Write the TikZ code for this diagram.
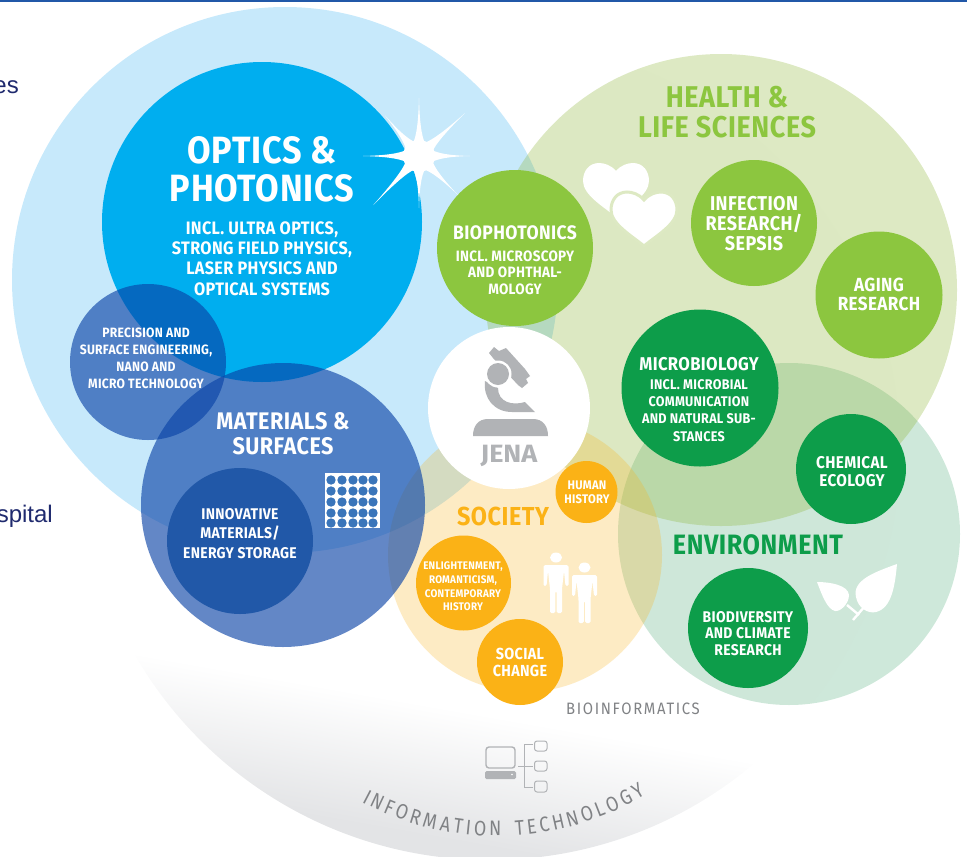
\documentclass[tikz,border=0pt]{standalone}
\usepackage{fontspec}
\usetikzlibrary{decorations.text}
\setmainfont{Liberation Sans}
\newfontfamily\lab[FakeStretch=0.90,LetterSpace=2]{Fira Sans}
\newfontfamily\labx[FakeStretch=1.08]{Fira Sans}
\newfontfamily\labwide[LetterSpace=10,FakeStretch=0.9]{Fira Sans}
\newfontfamily\labcurve[FakeStretch=0.85]{Fira Sans}
\definecolor{skypale}{HTML}{C7E9FB}
\definecolor{optic}{HTML}{00AEEF}
\definecolor{matblue}{HTML}{0942A6}
\definecolor{innov}{HTML}{2158A8}
\definecolor{dotblue}{HTML}{3A75BA}
\definecolor{lime}{HTML}{8CC63F}
\definecolor{healthbase}{HTML}{8DB637}
\definecolor{envbase}{HTML}{0A8A45}
\definecolor{deepgreen}{HTML}{0D9D4A}
\definecolor{amber}{HTML}{FBB216}
\definecolor{iconGray}{HTML}{B1B3B6}
\definecolor{txtGray}{HTML}{808285}
\definecolor{navy}{HTML}{1F2A6E}
\definecolor{halo}{HTML}{DDE9C3}
\definecolor{itgray}{HTML}{E3E4E6}
\pgfdeclareverticalshading{itsh}{100bp}{color(0bp)=(itgray); color(26bp)=(itgray); color(34bp)=(white); color(100bp)=(white)}
\tikzset{
  disc/.style={circle,inner sep=0pt,outer sep=0pt,minimum size=#1},
  wt/.style={text=white,align=center,inner sep=0pt,font=\lab\bfseries\fontsize{#1}{#1}\selectfont},
  lines/.style 2 args={text=white,align=center,inner sep=0pt,font=\lab\bfseries\fontsize{#1}{#2}\selectfont},
  icon/.style={fill=iconGray,draw=none},
  iconline/.style={draw=iconGray,line width=1.4pt,fill=none},
}
\newcommand{\heartpath}{(0,0) .. controls (5,-6) and (12,-8) .. (17,-8) .. controls (27,-8) and (33,0) .. (33,10) .. controls (33,24) and (12,36) .. (0,46) .. controls (-12,36) and (-33,24) .. (-33,10) .. controls (-33,0) and (-27,-8) .. (-17,-8) .. controls (-12,-8) and (-5,-6) .. (0,0) -- cycle}
\newcommand{\personat}[2]{%
  \begin{scope}[shift={(#1,#2)}]
    \fill[white] (0,-7.5) ellipse (6 and 5);
    \fill[white,rounded corners=1.5pt] (-12.5,0) -- (12.5,0) -- (12.5,21) -- (9.5,21) -- (8,6) -- (6,24) -- (6,48) -- (0.7,48) -- (0.7,26) -- (-0.7,26) -- (-0.7,48) -- (-6,48) -- (-6,24) -- (-8,6) -- (-9.5,21) -- (-12.5,21) -- cycle;
  \end{scope}}
\begin{document}
\begin{tikzpicture}[x=1pt,y=-1pt]
\useasboundingbox (0,0) rectangle (967,857);
% top rule
\fill[fill=innov] (0,0) rectangle (967,1.5);
% information technology disc with grey lower part, gradient tilted
\shade[shading=itsh,shading angle=-10] (490,450) circle (410);
% large pale discs
\node[disc=546pt,fill=skypale] (sky) at (285,280) {};
\node[disc=342pt,fill=envbase,fill opacity=.2] (envdisc) at (789,534) {};
\node[disc=472pt,fill=healthbase,fill opacity=.3] (healthdisc) at (721,290) {};
\node[disc=274pt,fill=amber,fill opacity=.25] (socdisc) at (525,555) {};
% optics and star
\node[disc=320pt,fill=optic] (optics) at (262,222) {};
\begin{scope}[shift={(419,156)}]
  \foreach \a/\l in {0/51,45/55,90/52,133/67,180/56,230/53,270/58,317/63}{
    \fill[white] (\a+26:14) .. controls (\a+7:20) and (\a+1:\l*.6) .. (\a:\l) .. controls (\a-1:\l*.6) and (\a-7:20) .. (\a-26:14) -- cycle;
  }
  \fill[white] (0,0) circle (16);
\end{scope}
% materials
\node[disc=284pt,fill=matblue,fill opacity=.63] (materials) at (283,505) {};
\node[disc=156pt,fill=matblue,fill opacity=.63] (precision) at (148,362) {};
\node[disc=146pt,fill=innov] (innovative) at (240,541) {};
\fill[white] (325,473) rectangle (380,528);
\foreach \x in {331,342,353,363,373}{\foreach \y in {480,491,502,513,523}{\fill[fill=dotblue] (\x,\y) circle (4.7);}}
% hearts
\fill[white,shift={(616,171)}] \heartpath;
\filldraw[fill=white,draw=halo,line width=3pt,shift={(644,200)}] \heartpath;
% green discs
\node[disc=156pt,fill=lime] (bio) at (515,248) {};
\node[disc=126pt,fill=lime] (infection) at (754,223) {};
\node[disc=127pt,fill=lime] (aging) at (879,295) {};
\node[disc=157pt,fill=deepgreen] (micro) at (700,388) {};
\node[disc=110pt,fill=deepgreen] (chem) at (851,469) {};
\node[disc=120pt,fill=deepgreen] (biodiv) at (748,628) {};
% society discs
\node[disc=162pt,fill=white] (jena) at (509,408) {};
\node[disc=62pt,fill=amber] (human) at (586.5,492) {};
\node[disc=95pt,fill=amber] (enlight) at (463.5,583) {};
\node[disc=86pt,fill=amber] (social) at (520,662) {};
% microscope
\fill[icon] (489,353) -- (494,347) -- (499,351) -- (506,348) -- (525,369) -- (530,376) -- (526,379) -- (528,383) -- (522,388) -- (518,385) -- (493,358) -- cycle;
\fill[icon] (485,381) .. controls (483,398) and (494,412) .. (512,412) -- (535,412) -- (525,402) .. controls (512,406) and (498,402) .. (498,388) -- cycle;
\fill[white] (498,374) circle (13.5);
\fill[icon] (498,374) circle (11);
\fill[icon] (473,436) .. controls (473,426) and (478,419) .. (488,419) -- (533,419) .. controls (543,419) and (548,426) .. (548,436) -- cycle;
% people
\personat{556}{565}
\personat{584.5}{575}
% leaves
\fill[white] (897,564) .. controls (875,572) and (852,580) .. (856,597) .. controls (858,608) and (868,614) .. (876,612) .. controls (892,608) and (895,585) .. (897,564) -- cycle;
\fill[white] (817,582) .. controls (830,582) and (848,585) .. (849,595) .. controls (849,604) and (840,612) .. (835,611) .. controls (827,609) and (822,595) .. (817,582) -- cycle;
\draw[white,line width=2.4pt] (853,620) -- (865,606);
\draw[white,line width=2.4pt] (847,605) -- (859,615);
% computer
\draw[iconline,rounded corners=3pt] (486,747) rectangle (515,768);
\fill[icon,rounded corners=1.5pt] (485,771) rectangle (516,779);
\fill[white] (512,774.5) circle (0.8);
\draw[iconline,line width=1pt] (533,744) -- (524,744) -- (524,787) -- (533,787);
\draw[iconline,line width=1pt] (518,766) -- (533,766);
\draw[iconline,line width=1pt,rounded corners=2.5pt] (534.5,741) rectangle (547,751);
\draw[iconline,line width=1pt,rounded corners=2.5pt] (534.5,761) rectangle (547,771);
\draw[iconline,line width=1pt,rounded corners=2.5pt] (534.5,781) rectangle (547,792);
% labels
\node[anchor=base east,text=navy,font=\fontsize{24}{24}\selectfont,inner sep=0pt] (frag1) at (19,93) {es};
\node[anchor=base east,text=navy,font=\fontsize{24}{24}\selectfont,inner sep=0pt] (frag2) at (53,522) {spital};
\node[lines={38}{38}] (optT) at (262,169) {OPTICS \&\\PHOTONICS};
\node[lines={18}{20.3}] (optS) at (262,258.5) {INCL. ULTRA OPTICS,\\STRONG FIELD PHYSICS,\\LASER PHYSICS AND\\OPTICAL SYSTEMS};
\node[lines={13.5}{17.2}] (precT) at (146,358.5) {PRECISION AND\\SURFACE ENGINEERING,\\NANO AND\\MICRO TECHNOLOGY};
\node[lines={24}{25.5}] (matT) at (283,433.5) {MATERIALS \&\\SURFACES};
\node[lines={15.5}{19.5}] (innT) at (240,533.5) {INNOVATIVE\\MATERIALS/\\ENERGY STORAGE};
\node[wt=19.5] (bioT) at (515,233) {BIOPHOTONICS};
\node[lines={15}{16.5}] (bioS) at (515,272.5) {INCL. MICROSCOPY\\AND OPHTHAL-\\MOLOGY};
\node[lines={30}{30},text=lime] (healthT) at (727,112) {HEALTH \&\\LIFE SCIENCES};
\node[lines={20}{20}] (infT) at (754,224) {INFECTION\\RESEARCH/\\SEPSIS};
\node[lines={19}{19}] (ageT) at (879,294.5) {AGING\\RESEARCH};
\node[wt=18.5] (micT) at (699,364) {MICROBIOLOGY};
\node[lines={14}{17.2}] (micS) at (699,410.5) {INCL. MICROBIAL\\COMMUNICATION\\AND NATURAL SUB-\\STANCES};
\node[lines={17}{18}] (chemT) at (852,472) {CHEMICAL\\ECOLOGY};
\node[wt=28,text=deepgreen] (envT) at (758,545) {ENVIRONMENT};
\node[lines={15.5}{16.5}] (bdT) at (748,633.5) {BIODIVERSITY\\AND CLIMATE\\RESEARCH};
\node[wt=26,text=amber] (socT) at (503,516) {SOCIETY};
\node[lines={12.5}{14}] (humT) at (587,492) {HUMAN\\HISTORY};
\node[lines={11}{13.7}] (enlT) at (463,586.5) {ENLIGHTENMENT,\\ROMANTICISM,\\CONTEMPORARY\\HISTORY};
\node[lines={16}{17}] (socC) at (520,662.5) {SOCIAL\\CHANGE};
\node[inner sep=0pt,text=iconGray,font=\labx\bfseries\fontsize{25}{25}\selectfont] (jenaT) at (509,456) {JENA};
\node[inner sep=0pt,text=txtGray,font=\labwide\fontsize{16.5}{16.5}\selectfont] (bioinf) at (633,709) {BIOINFORMATICS};
\foreach \c/\w [count=\i,remember=\nxt as \pos (initially 0),evaluate=\pos as \md using \pos+\w/2,evaluate=\pos as \nxt using \pos+\w+3,evaluate=\md as \ang using 118-\md/288*57.296] in {I/5,N/12,F/9,O/13,R/10,M/15,A/11,T/10,I/5,O/13,N/12,{}/8,T/10,E/9,C/11,H/12,N/12,O/13,L/9,O/13,G/12,Y/10}{
  \node[anchor=base,inner sep=0pt,text=txtGray,rotate=90-\ang,font=\labcurve\fontsize{21}{21}\selectfont] (it\i) at ([shift={(\ang:288)}]497,548) {\c};
}
\end{tikzpicture}
\end{document}
